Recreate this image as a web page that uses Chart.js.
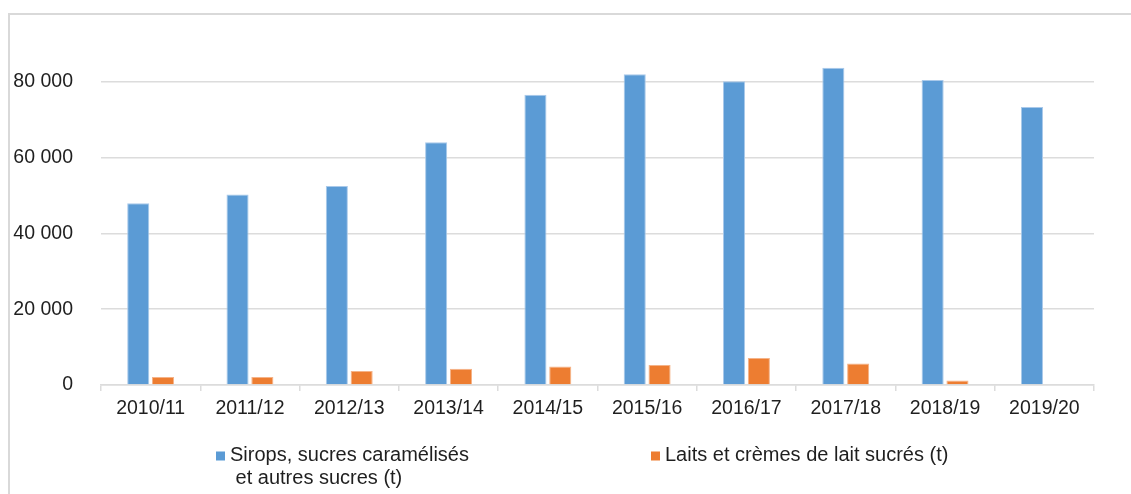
<!DOCTYPE html>
<html lang="fr">
<head>
<meta charset="utf-8">
<title>Sirops et laits sucrés</title>
<script src="https://cdn.jsdelivr.net/npm/chart.js@4/dist/chart.umd.min.js"></script>
<style>
  html, body { margin: 0; padding: 0; background: #fff; }
  .frame {
    position: absolute;
    left: 8px;
    top: 13px;
    width: 1123px;
    height: 481px;
    box-sizing: border-box;
    border-top: 2px solid #d9d9d9;
    border-left: 2px solid #d9d9d9;
  }
</style>
</head>
<body>
<div class="frame">
  <canvas id="myChart"></canvas>
</div>
<script>
// Campaigns (x axis)
const campagnes = ['2010/11', '2011/12', '2012/13', '2013/14', '2014/15',
                   '2015/16', '2016/17', '2017/18', '2018/19', '2019/20'];

// Tonnes per campaign
const sirops = [48000, 50300, 52500, 64100, 76600, 82000, 80200, 83700, 80500, 73400];
const laits = [2100, 2100, 3700, 4300, 4900, 5300, 7100, 5700, 1200, 0];

// Legend text, one entry per line
const siropsLegend = ['Sirops, sucres caramélisés', ' et autres sucres (t)'];
const laitsLegend = ['Laits et crèmes de lait sucrés (t)'];

// Y axis ticks shown
const yTicks = [0, 20000, 40000, 60000, 80000];

const FONT = '"Liberation Sans", Arial, sans-serif';
const TEXT = '#1f1f1f';
const GRID = '#dcdcdc';

// "80000" -> "80 000"
const formatNombre = (v) => String(v).replace(/\B(?=(\d{3})+(?!\d))/g, ' ');

// Legend drawn below the axis, items spread out like the office chart
const bottomLegend = {
  id: 'bottomLegend',
  afterDraw(chart, args, opts) {
    const { ctx } = chart;
    ctx.save();
    ctx.font = `${opts.fontSize}px ${FONT}`;
    ctx.textBaseline = 'middle';
    ctx.textAlign = 'left';
    chart.data.datasets.forEach((ds, i) => {
      const x = opts.positions[i];
      const y = opts.top;
      ctx.fillStyle = ds.backgroundColor;
      ctx.fillRect(x, y - opts.box / 2, opts.box, opts.box);
      ctx.fillStyle = TEXT;
      ds.legendLines.forEach((line, j) => {
        ctx.fillText(line, x + opts.box + opts.gap, y - 1 + j * opts.lineHeight);
      });
    });
    ctx.restore();
  },
};

const ctx = document.getElementById('myChart').getContext('2d');
new Chart(ctx, {
  type: 'bar',
  data: {
    labels: campagnes,
    datasets: [
      {
        label: siropsLegend.join(''),
        legendLines: siropsLegend,
        data: sirops,
        backgroundColor: '#5b9bd5',
        borderColor: '#a9c9ea',
        borderWidth: 1,
        categoryPercentage: 0.5,
        barPercentage: 0.89,
      },
      {
        label: laitsLegend.join(''),
        legendLines: laitsLegend,
        data: laits,
        backgroundColor: '#ed7d31',
        borderColor: '#f5b388',
        borderWidth: 1,
        categoryPercentage: 0.5,
        barPercentage: 0.89,
      },
    ],
  },
  options: {
    responsive: true,
    maintainAspectRatio: false,
    animation: false,
    layout: {
      padding: { top: 29, right: 37, bottom: 0, left: 0 },
    },
    plugins: {
      legend: { display: false },
      tooltip: { enabled: false },
      bottomLegend: {
        positions: [206, 641],
        top: 441,
        box: 9,
        gap: 5,
        lineHeight: 23,
        fontSize: 20,
      },
    },
    scales: {
      x: {
        offset: true,
        grid: {
          display: true,
          drawOnChartArea: false,
          drawTicks: true,
          tickLength: 6,
          color: GRID,
          lineWidth: 1.5,
        },
        border: { display: true, color: GRID, width: 1.5 },
        ticks: {
          color: TEXT,
          padding: 6,
          maxRotation: 0,
          font: { family: FONT, size: 19.5 },
        },
        afterFit(scale) {
          scale.height = 109;
        },
      },
      y: {
        min: 0,
        max: 90000,
        grid: {
          color: GRID,
          lineWidth: 1.5,
          // invisible tick marks keep the labels away from the plot
          drawTicks: true,
          tickLength: 28,
          tickColor: 'rgba(0,0,0,0)',
        },
        border: { display: false },
        ticks: {
          stepSize: 20000,
          color: TEXT,
          padding: 0,
          font: { family: FONT, size: 19.5 },
          callback: (v) => formatNombre(v),
        },
        afterBuildTicks(scale) {
          scale.ticks = yTicks.map((v) => ({ value: v }));
        },
        afterFit(scale) {
          scale.width = 91;
        },
      },
    },
  },
  plugins: [bottomLegend],
});
</script>
</body>
</html>
